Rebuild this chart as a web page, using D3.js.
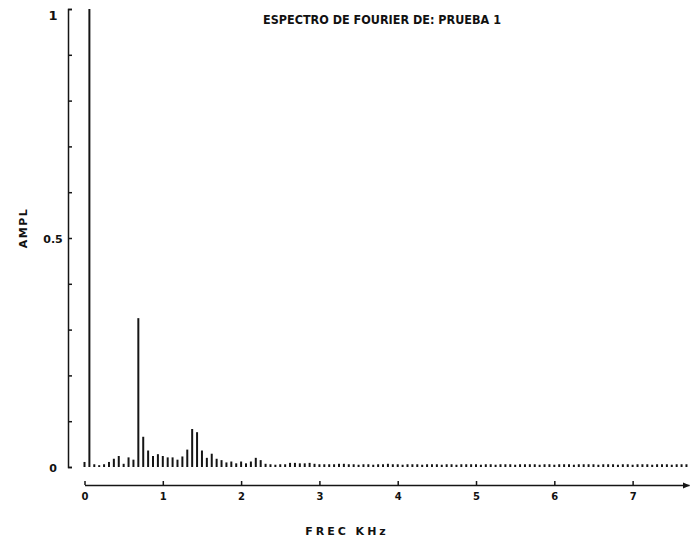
<!DOCTYPE html>
<html>
<head>
<meta charset="utf-8">
<script src="https://cdn.jsdelivr.net/npm/d3@7"></script>
<style>
  html, body { margin: 0; padding: 0; background: #fff; }
  svg { display: block; }
  text { font-family: "DejaVu Sans", sans-serif; font-weight: bold; fill: #111; }
</style>
</head>
<body>
<svg id="chart" width="696" height="553"></svg>
<script>
// FFT bin spacing (kHz) and normalised amplitude of each bin
const binWidthKHz = 0.0625;
const amplitudes = [
  0.011, 1.0, 0.006, 0.004, 0.006, 0.011, 0.018, 0.024, 0.007, 0.021, 0.016, 0.325,
  0.066, 0.036, 0.024, 0.028, 0.024, 0.021, 0.021, 0.016, 0.023, 0.038, 0.083, 0.076,
  0.036, 0.020, 0.029, 0.018, 0.015, 0.010, 0.012, 0.008, 0.012, 0.008, 0.012, 0.020, 0.015, 0.007,
  0.006, 0.005, 0.006, 0.006, 0.009, 0.009, 0.008, 0.008, 0.009, 0.007, 0.006, 0.006, 0.006, 0.006, 0.007, 0.007,
  0.006, 0.006, 0.005, 0.006, 0.006, 0.005, 0.006, 0.006, 0.007, 0.006,
  0.006, 0.005, 0.006, 0.006, 0.006, 0.005, 0.006, 0.006, 0.006, 0.005,
  0.006, 0.006, 0.005, 0.006, 0.006, 0.006, 0.006, 0.005, 0.006, 0.006,
  0.005, 0.006, 0.006, 0.006, 0.005, 0.006, 0.006, 0.006, 0.006, 0.005,
  0.006, 0.006, 0.005, 0.006, 0.006, 0.006, 0.005, 0.006, 0.006, 0.006,
  0.006, 0.005, 0.006, 0.006, 0.006, 0.005, 0.006, 0.006, 0.005, 0.006,
  0.006, 0.006, 0.005, 0.006, 0.006, 0.006, 0.005, 0.006, 0.006, 0.006
];

const xTickValues = [0, 1, 2, 3, 4, 5, 6, 7];
const xTickLabels = ["0", "1", "2", "3", "4", "5", "6", "7"];
const yTickValues = [0, 0.1, 0.2, 0.3, 0.4, 0.5, 0.6, 0.7, 0.8, 0.9, 1];
const yLabelValues = [0, 0.5, 1];
const yLabelText = ["0", "0.5", "1"];

const titleText = "ESPECTRO DE FOURIER DE: PRUEBA 1";
const xTitle = "FREC KHz";
const yTitle = "AMPL";

const svg = d3.select("#chart");
const ink = "#151515";

const x = d3.scaleLinear().domain([0, 7.72]).range([84.5, 689]);
const y = d3.scaleLinear().domain([0, 1]).range([467, 9]);

// spectrum lines
svg.append("g")
  .selectAll("line")
  .data(amplitudes)
  .join("line")
  .attr("x1", (d, i) => x(i * binWidthKHz))
  .attr("x2", (d, i) => x(i * binWidthKHz))
  .attr("y1", y(0))
  .attr("y2", d => y(d))
  .attr("stroke", ink)
  .attr("stroke-width", 2);

// y axis: ticks point into the plot
const yAxis = d3.axisLeft(y)
  .tickValues(yTickValues)
  .tickSizeInner(-4)
  .tickSizeOuter(-4)
  .tickPadding(15)
  .tickFormat(v => {
    const k = yLabelValues.findIndex(l => Math.abs(l - v) < 1e-9);
    return k >= 0 ? yLabelText[k] : "";
  });

const gy = svg.append("g").attr("transform", "translate(68,0)").call(yAxis);
gy.select(".domain").attr("stroke", ink).attr("stroke-width", 1.5);
gy.selectAll(".tick line").attr("stroke", ink).attr("stroke-width", 1.5);
gy.selectAll(".tick text")
  .attr("text-anchor", "middle")
  .attr("font-size", (v) => v === 1 ? 13 : 11)
  .attr("font-family", "DejaVu Sans")
  .attr("font-weight", "bold")
  .attr("fill", ink)
  .attr("dy", (v) => v === 1 ? "0.8em" : "0.4em");

// x axis along the baseline, ending in an arrow
svg.append("defs").append("marker")
  .attr("id", "arrow")
  .attr("viewBox", "0 0 10 10")
  .attr("refX", 9).attr("refY", 5)
  .attr("markerWidth", 5).attr("markerHeight", 5)
  .attr("orient", "auto")
  .append("path").attr("d", "M0,1L10,5L0,9Z").attr("fill", ink);

const xAxis = d3.axisBottom(x)
  .tickValues(xTickValues)
  .tickSizeInner(-4)
  .tickSizeOuter(0)
  .tickPadding(8)
  .tickFormat((v, i) => xTickLabels[i]);

const gx = svg.append("g").attr("transform", "translate(0,485)").call(xAxis);
gx.select(".domain").attr("stroke", ink).attr("stroke-width", 1.5)
  .attr("marker-end", "url(#arrow)");
gx.selectAll(".tick line").attr("stroke", ink).attr("stroke-width", 1.5);
gx.selectAll(".tick text")
  .attr("font-size", 10)
  .attr("font-family", "DejaVu Sans")
  .attr("font-weight", "bold")
  .attr("fill", ink);

// titles
svg.append("text")
  .attr("x", 263).attr("y", 24)
  .attr("font-size", 12)
  .attr("font-family", "DejaVu Sans Condensed, DejaVu Sans")
  .attr("textLength", 238)
  .attr("lengthAdjust", "spacingAndGlyphs")
  .text(titleText);

svg.append("text")
  .attr("x", 347).attr("y", 535)
  .attr("text-anchor", "middle")
  .attr("font-size", 11)
  .attr("letter-spacing", 3)
  .text(xTitle);

svg.append("text")
  .attr("transform", "translate(27,228) rotate(-90)")
  .attr("text-anchor", "middle")
  .attr("font-size", 11)
  .attr("letter-spacing", 1.5)
  .text(yTitle);
</script>
</body>
</html>
